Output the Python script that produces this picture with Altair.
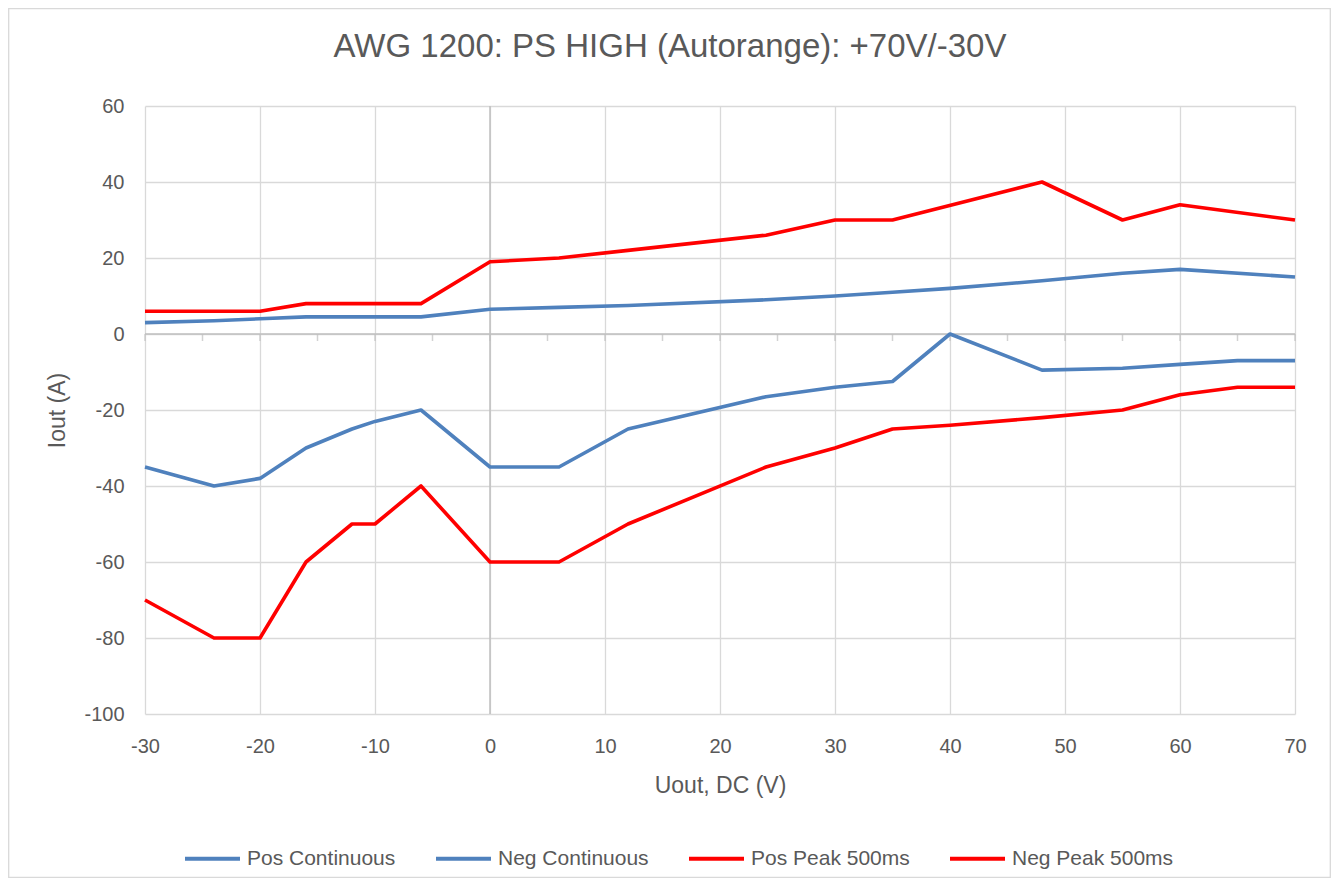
import altair as alt
import pandas as pd

# ---- data ----
series_names = ["Pos Continuous", "Neg Continuous", "Pos Peak 500ms", "Neg Peak 500ms"]

pos_cont_v = [-30, -24, -20, -16, -6, 0, 6, 12, 24, 30, 35, 40, 48, 55, 60, 70]
pos_cont_a = [3, 3.5, 4, 4.5, 4.5, 6.5, 7, 7.5, 9, 10, 11, 12, 14, 16, 17, 15]

neg_cont_v = [-30, -24, -20, -16, -12, -10, -6, 0, 6, 12, 24, 30, 35, 40, 48, 55, 60, 65, 70]
neg_cont_a = [-35, -40, -38, -30, -25, -23, -20, -35, -35, -25, -16.5, -14, -12.5, 0, -9.5, -9, -8, -7, -7]

pos_peak_v = [-30, -24, -20, -16, -12, -10, -6, 0, 6, 12, 24, 30, 35, 48, 55, 60, 70]
pos_peak_a = [6, 6, 6, 8, 8, 8, 8, 19, 20, 22, 26, 30, 30, 40, 30, 34, 30]

neg_peak_v = [-30, -24, -20, -16, -12, -10, -6, 0, 6, 12, 24, 30, 35, 40, 48, 55, 60, 65, 70]
neg_peak_a = [-70, -80, -80, -60, -50, -50, -40, -60, -60, -50, -35, -30, -25, -24, -22, -20, -16, -14, -14]

x_label_values = [-30, -20, -10, 0, 10, 20, 30, 40, 50, 60, 70]
y_label_values = [-100, -80, -60, -40, -20, 0, 20, 40, 60]
zero_tick_values = [-30, -25, -20, -15, -10, -5, 0, 5, 10, 15, 20, 25, 30, 35, 40, 45, 50, 55, 60, 65, 70]

chart_title = "AWG 1200: PS HIGH (Autorange): +70V/-30V"

# ---- build table ----
rows = []
for name, vs, as_ in [
    (series_names[0], pos_cont_v, pos_cont_a),
    (series_names[1], neg_cont_v, neg_cont_a),
    (series_names[2], pos_peak_v, pos_peak_a),
    (series_names[3], neg_peak_v, neg_peak_a),
]:
    for v, a in zip(vs, as_):
        rows.append({"series": name, "v": v, "a": a})
df = pd.DataFrame(rows)
ticks_df = pd.DataFrame({"v": zero_tick_values})

FONT = "Liberation Sans"
TXT = "#595959"
GRID = "#D9D9D9"
AXIS = "#BFBFBF"
BLUE = "#4F81BD"
RED = "#FF0000"

W, H = 1150, 608
PAD = {"left": 137, "top": 98, "right": 36, "bottom": 164}

xscale = alt.Scale(domain=[-30, 70], nice=False, zero=False)
yscale = alt.Scale(domain=[-100, 60], nice=False, zero=False)

x_axis = alt.Axis(
    values=x_label_values, grid=True, gridColor=GRID, gridWidth=1.3,
    domain=False, ticks=False, tickSize=0, labelPadding=22, labelFlush=False,
    labelExpr="datum.value + ''",
    labelFontSize=20, labelColor=TXT, labelFont=FONT,
    title="Uout, DC (V)", titleFontSize=23, titleColor=TXT, titleFont=FONT,
    titleFontWeight="normal", titlePadding=18,
)
y_axis = alt.Axis(
    values=y_label_values, grid=True, gridColor=GRID, gridWidth=1.3,
    domain=False, ticks=False, tickSize=0, labelPadding=21, labelFlush=False,
    labelExpr="datum.value + ''",
    labelFontSize=20, labelColor=TXT, labelFont=FONT,
    title="Iout (A)", titleFontSize=23, titleColor=TXT, titleFont=FONT,
    titleFontWeight="normal", titlePadding=14,
)

X = alt.X("v:Q", scale=xscale, axis=x_axis)
Y = alt.Y("a:Q", scale=yscale, axis=y_axis)

one = pd.DataFrame({"t": [chart_title]})

border = alt.Chart(one).mark_rect(
    fillOpacity=0, stroke=GRID, strokeWidth=1.3
).encode(
    x=alt.value(-PAD["left"] + 0.7),
    x2=alt.value(W + PAD["right"] - 0.7),
    y=alt.value(-PAD["top"] + 0.7),
    y2=alt.value(H + PAD["bottom"] - 0.7),
)

title_text = alt.Chart(one).mark_text(
    fontSize=33, font=FONT, color=TXT, align="center", baseline="middle"
).encode(
    text="t:N",
    x=alt.value(525),
    y=alt.value(-59),
)

zero_h = alt.Chart(one).mark_rule(
    color=AXIS, strokeWidth=1.5
).encode(y=alt.datum(0, scale=yscale))

zero_v = alt.Chart(one).mark_rule(
    color=AXIS, strokeWidth=1.5
).encode(x=alt.datum(0, scale=xscale))

zero_ticks = alt.Chart(ticks_df).mark_tick(
    orient="vertical", size=7, thickness=1.5, color=AXIS, yOffset=3.5
).encode(x=X, y=alt.datum(0))

lines = alt.Chart(df).mark_line(
    strokeWidth=3.6, strokeJoin="round", strokeCap="butt"
).encode(
    x=X,
    y=Y,
    color=alt.Color(
        "series:N",
        scale=alt.Scale(domain=series_names, range=[BLUE, BLUE, RED, RED]),
        legend=alt.Legend(
            title=None, orient="none", legendX=38, legendY=723,
            direction="horizontal", columns=4,
            symbolType="stroke", symbolSize=3025, symbolStrokeWidth=4,
            labelFontSize=21, labelColor=TXT, labelFont=FONT, labelLimit=400,
            labelOffset=5, columnPadding=32,
        ),
    ),
    order=alt.Order("v:Q"),
)

chart = alt.layer(border, title_text, zero_v, zero_h, zero_ticks, lines).properties(
    width=W,
    height=H,
    padding=PAD,
    autosize=alt.AutoSizeParams(type="none"),
    background="white",
).configure_view(stroke=None)

chart.save("out.html", embed_options={"renderer": "svg", "actions": False})
